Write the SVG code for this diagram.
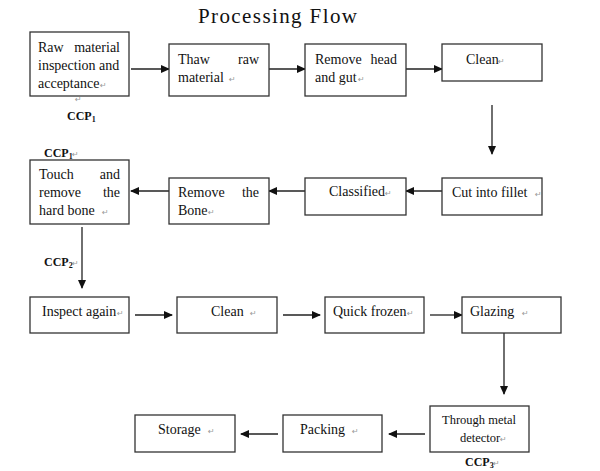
<svg xmlns="http://www.w3.org/2000/svg" width="600" height="471" viewBox="0 0 600 471">
<defs>
<style>
.box{fill:#fff;stroke:#333;stroke-width:1.3}
.t{font-family:"Liberation Serif","Times New Roman",serif;font-size:14px;fill:#111}
.s{font-family:"Liberation Serif","Times New Roman",serif;font-size:12.5px;fill:#111}
.ccp{font-family:"Liberation Serif","Times New Roman",serif;font-size:12px;font-weight:bold;fill:#111}
.pm{font-family:"DejaVu Sans",sans-serif;font-size:8px;fill:#999}
.title{font-family:"Liberation Serif","Times New Roman",serif;font-size:21px;fill:#111}
.c{stroke:#222;stroke-width:1.3;fill:none;marker-end:url(#ah)}
</style>
<marker id="ah" markerWidth="9" markerHeight="8" refX="8" refY="4" orient="auto" markerUnits="userSpaceOnUse">
<path d="M0,0 L9,4 L0,8 Z" fill="#111"/>
</marker>
</defs>
<rect width="600" height="471" fill="#fff"/>
<text class="title" x="198" y="23" textLength="159" lengthAdjust="spacing">Processing Flow</text>

<g id="connectors">
<line class="c" x1="131" y1="69" x2="169" y2="69"/>
<line class="c" x1="269" y1="69" x2="305" y2="69"/>
<line class="c" x1="406" y1="69" x2="442" y2="69"/>
<line class="c" x1="492" y1="105" x2="492" y2="154"/>
<line class="c" x1="442" y1="191" x2="406" y2="191"/>
<line class="c" x1="305" y1="191" x2="269" y2="191"/>
<line class="c" x1="169" y1="191" x2="131" y2="191"/>
<line class="c" x1="82" y1="227" x2="82" y2="288"/>
<line class="c" x1="135" y1="315" x2="172" y2="315"/>
<line class="c" x1="283" y1="315" x2="320" y2="315"/>
<line class="c" x1="430" y1="315" x2="462" y2="315"/>
<line class="c" x1="504" y1="333" x2="504" y2="394"/>
<line class="c" x1="425" y1="434" x2="389" y2="434"/>
<line class="c" x1="278" y1="434" x2="241" y2="434"/>
</g>

<g id="n1">
<rect class="box" x="30" y="32" width="99" height="64"/>
<text class="t" x="38" y="52">Raw</text><text class="t" x="120" y="52" text-anchor="end">material</text>
<text class="t" x="38" y="70">inspection and</text>
<text class="t" x="38" y="88">acceptance</text><text class="pm" x="100" y="88">↵</text>
<text class="pm" x="75" y="102">↵</text>
<text class="ccp" x="67" y="120">CCP<tspan font-size="8" dy="2">1</tspan></text>
</g>
<g id="n2">
<rect class="box" x="169" y="44" width="100" height="52"/>
<text class="t" x="178" y="64">Thaw</text><text class="t" x="259" y="64" text-anchor="end">raw</text>
<text class="t" x="178" y="82">material</text><text class="pm" x="229" y="82">↵</text>
</g>
<g id="n3">
<rect class="box" x="305" y="44" width="101" height="52"/>
<text class="t" x="315" y="64">Remove</text><text class="t" x="397" y="64" text-anchor="end">head</text>
<text class="t" x="315" y="82">and gut</text><text class="pm" x="358" y="82">↵</text>
</g>
<g id="n4">
<rect class="box" x="442" y="44" width="100" height="37"/>
<text class="t" x="466" y="64">Clean</text><text class="pm" x="498" y="64">↵</text>
</g>

<g id="n8">
<text class="ccp" x="44" y="157">CCP<tspan font-size="8" dy="2">1</tspan></text><text class="pm" x="72" y="157">↵</text>
<rect class="box" x="30" y="160" width="99" height="64"/>
<text class="t" x="39" y="179">Touch</text><text class="t" x="120" y="179" text-anchor="end">and</text>
<text class="t" x="39" y="197">remove</text><text class="t" x="120" y="197" text-anchor="end">the</text>
<text class="t" x="39" y="215">hard bone</text><text class="pm" x="102" y="215">↵</text>
<text class="ccp" x="44" y="266">CCP<tspan font-size="8" dy="2">2</tspan></text><text class="pm" x="72" y="266">↵</text>
</g>
<g id="n7">
<rect class="box" x="169" y="178" width="100" height="46"/>
<text class="t" x="178" y="197">Remove</text><text class="t" x="259" y="197" text-anchor="end">the</text>
<text class="t" x="178" y="215">Bone</text><text class="pm" x="208" y="215">↵</text>
</g>
<g id="n6">
<rect class="box" x="305" y="178" width="101" height="37"/>
<text class="t" x="329" y="196">Classified</text><text class="pm" x="385" y="196">↵</text>
</g>
<g id="n5">
<rect class="box" x="442" y="178" width="100" height="37"/>
<text class="t" x="452" y="197">Cut into fillet</text><text class="pm" x="535" y="197">↵</text>
</g>

<g id="n9">
<rect class="box" x="30" y="297" width="99" height="36"/>
<text class="t" x="42" y="316">Inspect again</text><text class="pm" x="117" y="316">↵</text>
</g>
<g id="n10">
<rect class="box" x="177" y="297" width="100" height="36"/>
<text class="t" x="211" y="316">Clean</text><text class="pm" x="250" y="316">↵</text>
</g>
<g id="n11">
<rect class="box" x="325" y="297" width="99" height="36"/>
<text class="t" x="333" y="316">Quick frozen</text><text class="pm" x="407" y="316">↵</text>
</g>
<g id="n12">
<rect class="box" x="462" y="297" width="99" height="36"/>
<text class="t" x="470" y="316">Glazing</text><text class="pm" x="522" y="316">↵</text>
</g>

<g id="n13">
<rect class="box" x="430" y="406" width="99" height="46"/>
<text class="s" x="479" y="424" text-anchor="middle">Through metal</text>
<text class="s" x="460" y="442">detector</text><text class="pm" x="500" y="442">↵</text>
<text class="ccp" x="465" y="466">CCP<tspan font-size="8" dy="2">3</tspan></text><text class="pm" x="493" y="466">↵</text>
</g>
<g id="n14">
<rect class="box" x="283" y="415" width="99" height="37"/>
<text class="t" x="300" y="434">Packing</text><text class="pm" x="352" y="434">↵</text>
</g>
<g id="n15">
<rect class="box" x="135" y="415" width="100" height="37"/>
<text class="t" x="158" y="434">Storage</text><text class="pm" x="208" y="434">↵</text>
</g>
</svg>
